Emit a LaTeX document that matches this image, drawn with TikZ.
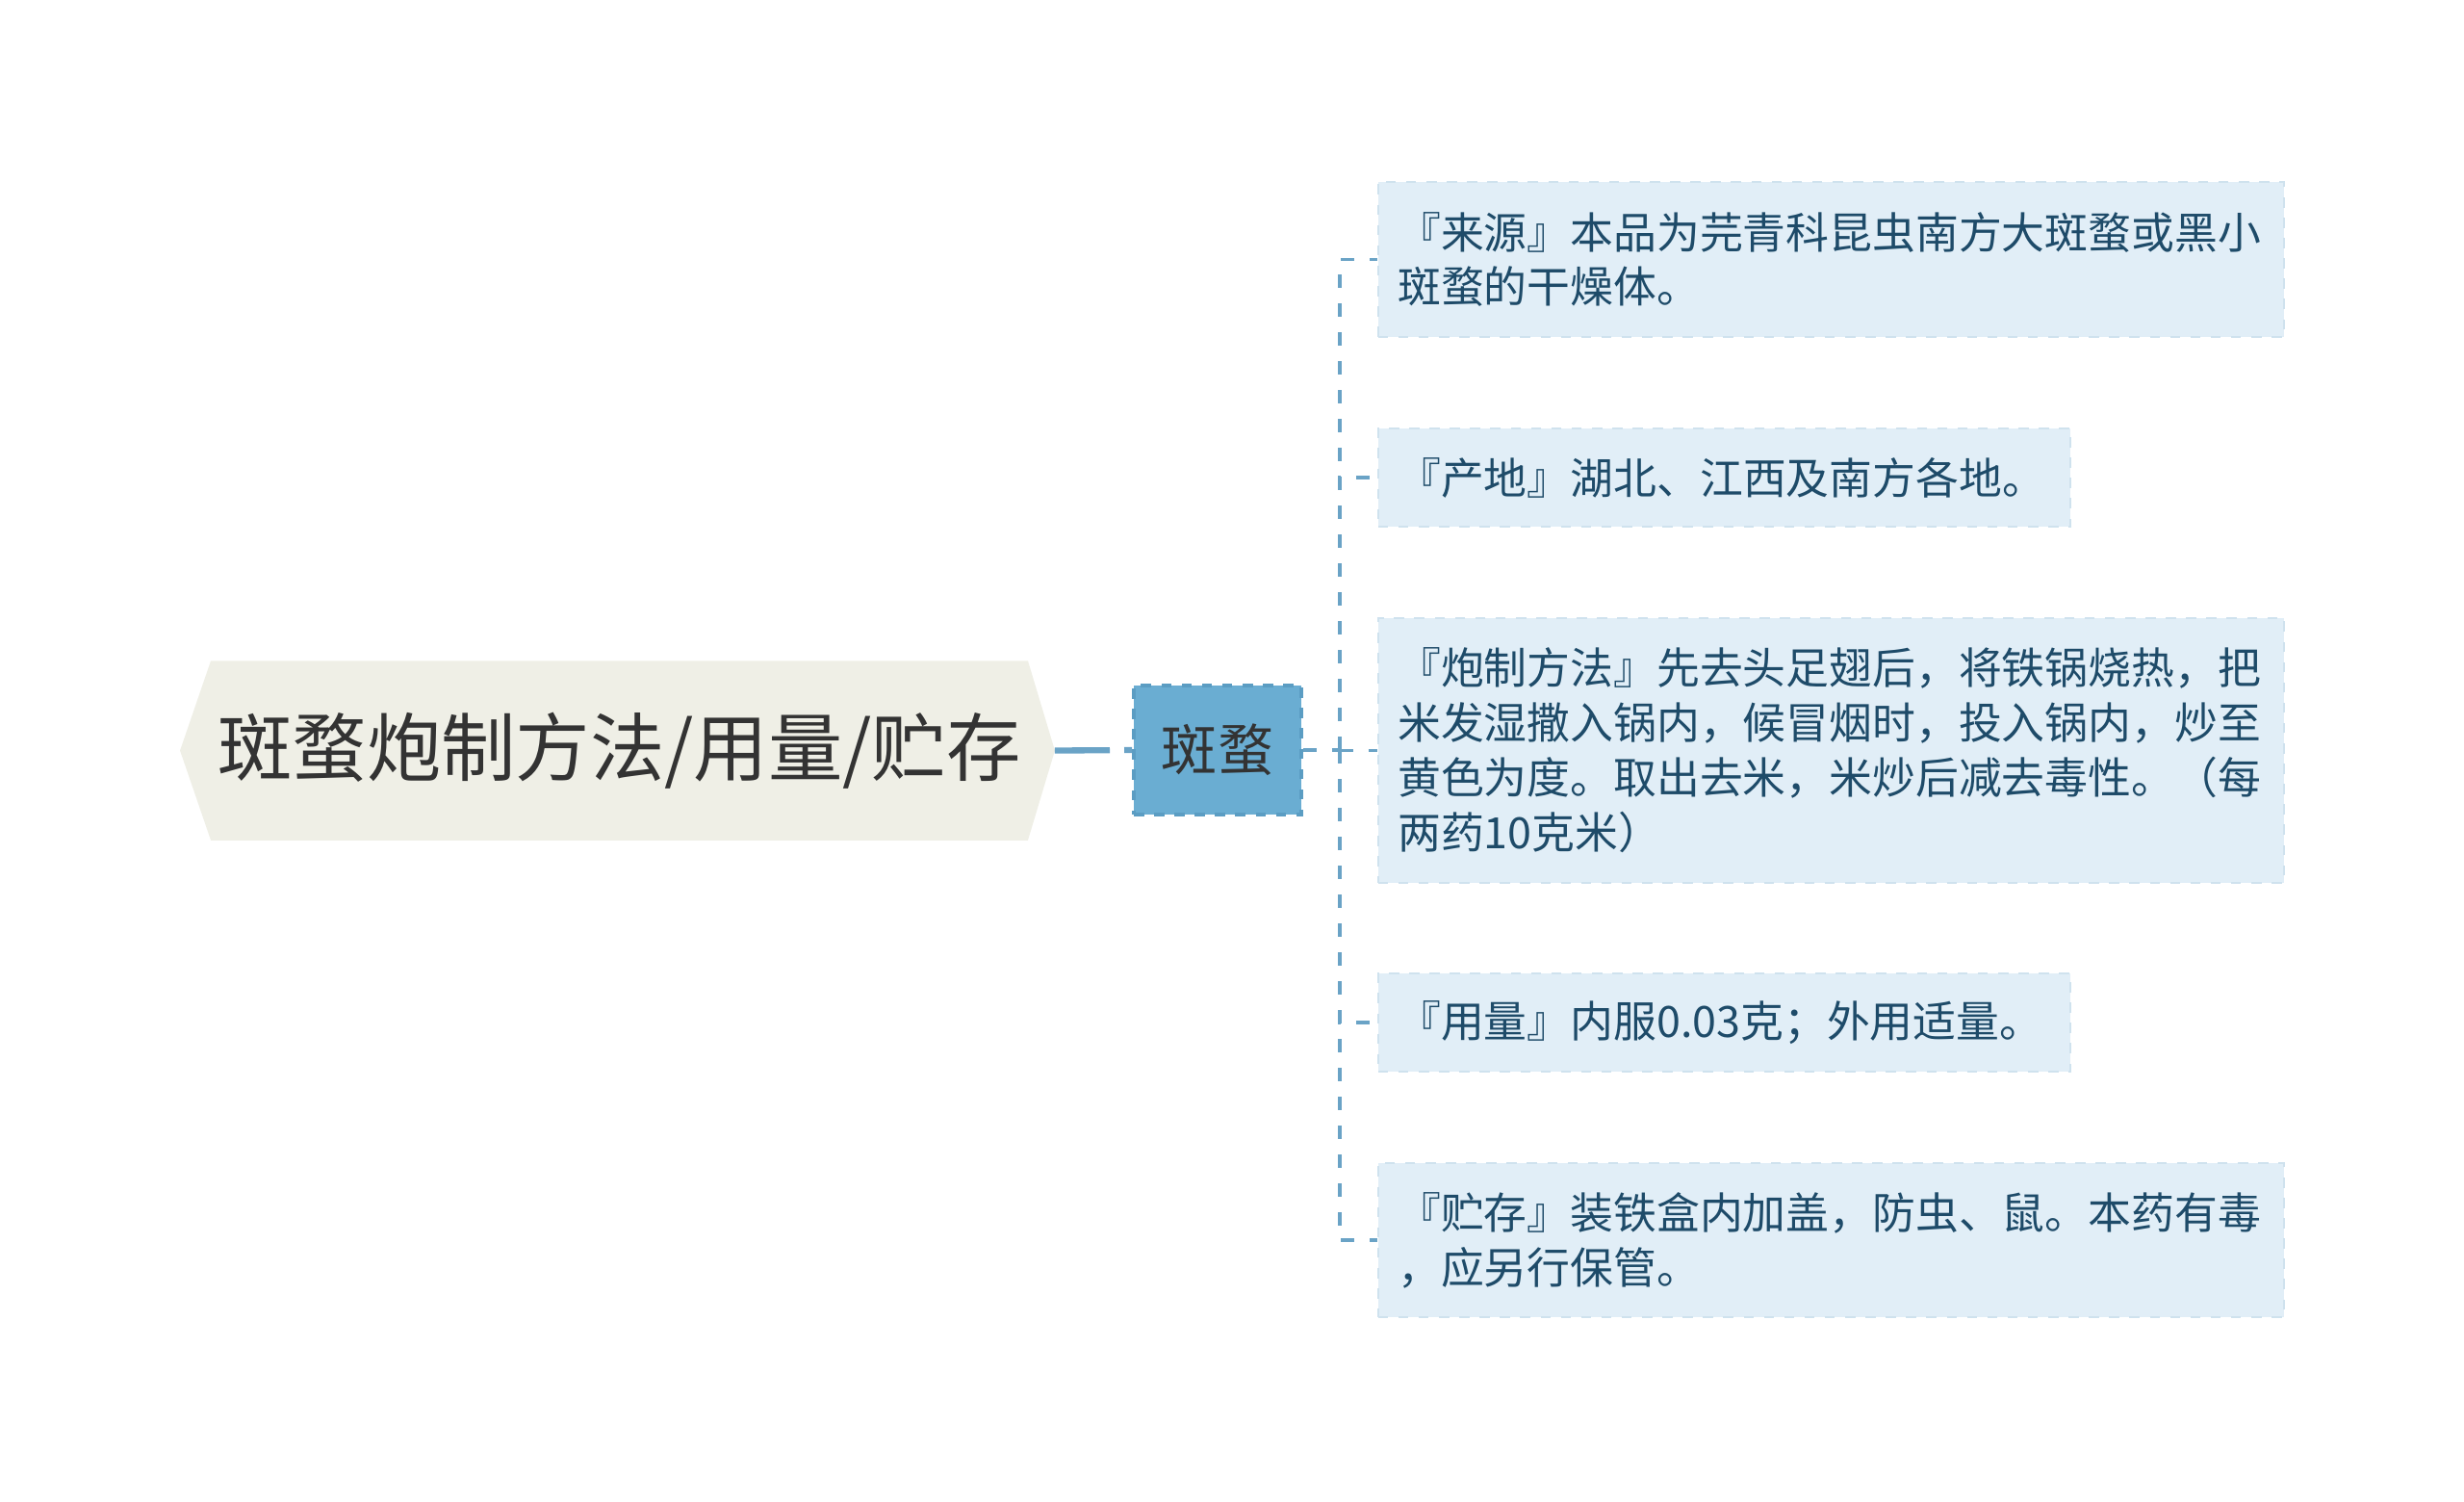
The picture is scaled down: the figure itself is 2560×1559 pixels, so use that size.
\documentclass[tikz,border=0pt]{standalone}
\usepackage{fontspec}
\setmainfont{Noto Sans CJK SC}
\usepackage{tikz}
\usetikzlibrary{positioning, backgrounds}
\usepackage{xcolor}

\definecolor{hexfill}{HTML}{EFEFE6}
\definecolor{topicfill}{HTML}{6AADD2}
\definecolor{topicline}{HTML}{5B9DC3}
\definecolor{leaffill}{HTML}{E1EEF7}
\definecolor{leafline}{HTML}{CFE2EE}
\definecolor{linkblue}{HTML}{6AA3C6}
\definecolor{leaftext}{HTML}{1E4B69}
\definecolor{maintext}{HTML}{333333}

\begin{document}
\begin{tikzpicture}[
      x=0.01cm, y=-0.01cm,
      rootbox/.style={minimum width=8.47cm, minimum height=1.85cm, inner sep=0pt, text=maintext, font=\fontsize{22pt}{26pt}\selectfont},
      topic/.style={draw=topicline, fill=topicfill, dashed, line width=1pt, minimum width=1.74cm, minimum height=1.34cm, inner sep=0pt, text=maintext, font=\fontsize{16.5pt}{20pt}\selectfont},
      leaf/.style={draw=leafline, fill=leaffill, dashed, line width=0.6pt, align=left, inner xsep=0.205cm, inner ysep=0pt, text=leaftext, font=\fontsize{12.75pt}{16.2pt}\selectfont},
      wide/.style={leaf, text width=9cm},
      narrow/.style={leaf, text width=6.78cm},
      trunk/.style={draw=linkblue, line width=1.8pt, dash pattern=on 0.57cm off 0.15cm},
      twig/.style={draw=linkblue, line width=1pt, dash pattern=on 0.14cm off 0.16cm}
    ]

    \useasboundingbox (0,0) rectangle (2560,1559);

    % Root
    \node[rootbox] (root) at (643.5, 779.5) {斑蝥炮制方法/用量/贮存};
    \coordinate (roottip) at ([xshift=0.28cm]root.east);
    \coordinate (roottail) at ([xshift=-0.32cm]root.west);
    \begin{pgfonlayer}{background}
      \fill[hexfill] (root.north west) -- (root.north east) -- (roottip) -- (root.south east) -- (root.south west) -- (roottail) -- cycle;
    \end{pgfonlayer}

    % Topic
    \node[topic] (topic) at (1265, 779) {斑蝥};

    % Leaves
    \node[wide, minimum height=1.61cm] (source) at (1902.5, 269.5) {『来源』本品为芫青科昆虫南方大斑蝥或黑小\\斑蝥的干燥体。};

    \node[narrow, minimum height=1.02cm] (origin) at (1791.5, 496) {『产地』湖北、江西及南方各地。};

    \node[wide, minimum height=2.75cm] (method) at (1902.5, 779.5) {『炮制方法』先去头足翅后，将铁锅烧热，把\\米发湿撒入锅内，候冒烟时，投入锅内，炒至\\黄色为度。取出去米，米炒后减去毒性。（每\\两药10克米）};

    \node[narrow, minimum height=1.02cm] (dose) at (1791.5, 1062) {『用量』内服0.03克；外用适量。};

    \node[wide, minimum height=1.6cm] (store) at (1902.5, 1288) {『贮存』装铁盒内加盖，防虫、鼠。本药有毒\\，应另行保管。};

    % Connectors
    \coordinate (fork) at (1392, 779);
    \draw[trunk] (roottip) -- (topic.west);
    \draw[twig] (topic.east) -- (fork);
    \foreach \leafname in {source, origin, method, dose, store}
      \draw[twig] (fork) |- (\leafname.west);

  \end{tikzpicture}
\end{document}
